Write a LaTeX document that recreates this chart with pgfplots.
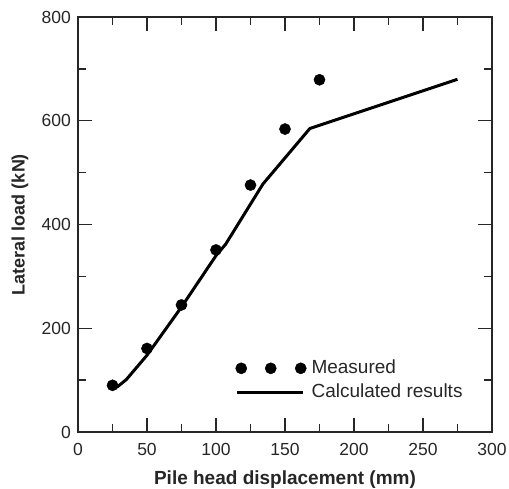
\documentclass[border=0pt]{standalone}
\usepackage{pgfplots}
\pgfplotsset{compat=1.18}
\usepackage{fontspec}
\setmainfont{Liberation Sans}
\begin{document}
\begin{tikzpicture}
\begin{axis}[
  at={(0pt,0pt)}, anchor=south west,
  scale only axis, width=414pt, height=415pt,
  xmin=0, xmax=300, ymin=0, ymax=800,
  xtick={0,50,...,300}, ytick={0,200,...,800},
  minor x tick num=1, minor y tick num=1,
  tick align=inside, major tick length=14pt, minor tick length=8pt,
  axis line style={line width=1.6pt, black!85},
  every tick/.style={line width=1.4pt, black!85},
  /pgf/number format/assume math mode=true,
  tick label style={font=\fontsize{17.5}{20}\selectfont, text=black!85, inner sep=0pt},
  xticklabel style={anchor=base, yshift=-23pt},
  yticklabel style={anchor=east, xshift=-7pt},
  every axis x label/.style={at={(axis description cs:0.5,-0.1265)}, anchor=base,
     font=\fontsize{19}{22}\selectfont\bfseries, text=black!85},
  every axis y label/.style={at={(axis description cs:-0.140,0.5)}, anchor=center, rotate=90,
     font=\fontsize{18}{21}\selectfont\bfseries, text=black!85},
  xlabel={Pile head displacement (mm)},
  ylabel={Lateral load (kN)},
  legend style={draw=none, fill=none, at={(axis cs:113.8,140.5)}, anchor=north west,
     font=\fontsize{19}{22}\selectfont, text=black!85, row sep=6pt, column sep=5pt,
     inner sep=0pt, nodes={inner sep=0pt, text height=14pt, text depth=4pt}},
  legend cell align=left,
]
\addplot[only marks, mark=*, mark size=5.6pt, black,
  legend image code/.code={\path[draw=none, fill=none] (-2pt,-6pt) rectangle (68pt,6pt);
     \fill[black] (4pt,0pt) circle (5.6pt) (33.5pt,0pt) circle (5.6pt) (63.5pt,0pt) circle (5.6pt);}]
  coordinates {(25,90) (50,161) (75,245) (100,351) (125,476) (150,584) (175,679)};
\addlegendentry{Measured}
\addplot[black, line width=3pt, no marks,
  legend image code/.code={\path[draw=none, fill=none] (-2pt,-6pt) rectangle (68pt,6pt);
     \draw[black, line width=3pt] (0pt,0pt) -- (66pt,0pt);}]
  coordinates {(28,86) (35,101) (50,148) (75,241) (100,340) (107,362) (134,478) (168,585) (275,680)};
\addlegendentry{Calculated results}
\end{axis}
\pgfresetboundingbox
\path[use as bounding box] (-78pt,-56pt) rectangle (431pt,432pt);
\end{tikzpicture}
\end{document}
